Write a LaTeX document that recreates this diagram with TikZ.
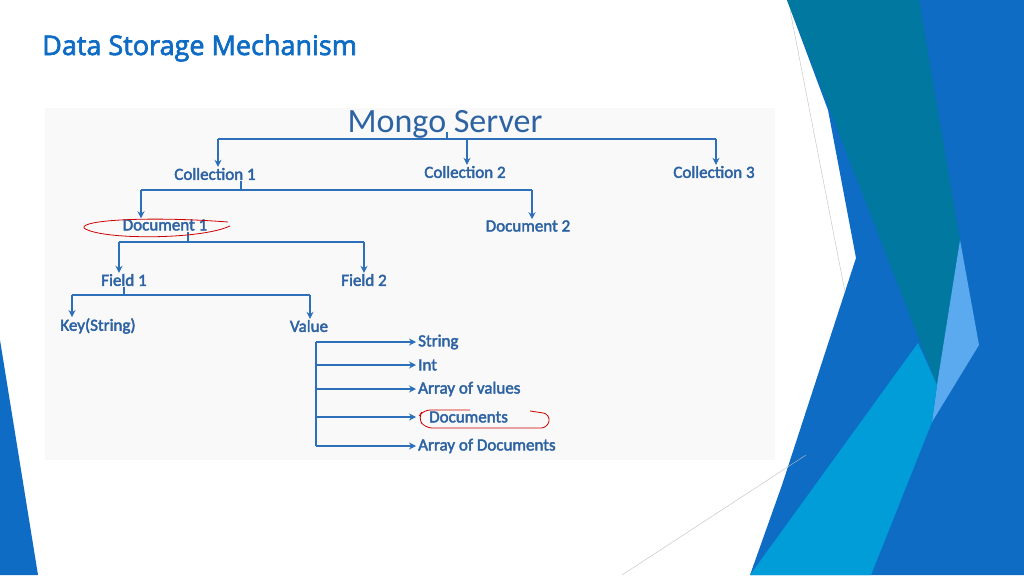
\documentclass[tikz,border=0pt]{standalone}
\usepackage{fontspec}
\setmainfont{Carlito}[AutoFakeBold=2.5]
\newfontfamily\titlefont{Open Sans}[AutoFakeBold=2.5]
\usetikzlibrary{arrows.meta}
\definecolor{dblue}{HTML}{0E6CC4}
\definecolor{teal2}{HTML}{00789F}
\definecolor{lblue}{HTML}{5BA9EE}
\definecolor{cyan2}{HTML}{009DD9}
\definecolor{txt}{HTML}{2E63A3}
\definecolor{lnk}{HTML}{2D6FB8}
\tikzset{
  lbl/.style={text=txt, font=\bfseries\fontsize{17}{19}\selectfont, inner sep=1pt},
  arr/.style={draw=lnk, line width=1.8pt, -{Stealth[length=7pt,width=7pt]}},
  bar/.style={draw=lnk, line width=1.8pt}
}
\begin{document}
\begin{tikzpicture}[x=1pt,y=-1pt]
                \useasboundingbox (0,0) rectangle (1024,575);
                \fill [white] (0,0) rectangle (1024,575);
                % slide decoration
                \fill [dblue] (787,0) -- (1024,0) -- (1024,575) -- (750,575) -- (782,485) -- (856,258) -- (828,110) -- cycle;
                \fill [teal2] (787,0) -- (919,0) -- (960,240) -- (937,385) -- cycle;
                \fill [lblue] (960,240) -- (979,345) -- (932,422) -- (937,385) -- cycle;
                \fill [cyan2] (918,343) -- (937,385) -- (932,422) -- (871,575) -- (750,575) -- cycle;
                \fill [dblue] (0,340) -- (38,575) -- (0,575) -- cycle;
                \draw [gray!50, line width=0.4pt] (790,10) -- (845,292);
                \draw [gray!50, line width=0.4pt] (622,575) -- (806,455);
                \node [anchor=west, text=dblue, font=\titlefont\bfseries\fontsize{27}{31}\selectfont, inner sep=0pt] (title) at (42,48) {Data Storage Mechanism};
                % screenshot area
                \fill [gray!5] (45,108) rectangle (775,460);
                \node [text=txt, font=\fontsize{34}{38}\selectfont, inner sep=1pt] (srv) at (445,124) {Mongo Server};
                \node [lbl] (c1) at (215,174) {Collection 1};
                \node [lbl] (c2) at (465,172) {Collection 2};
                \node [lbl] (c3) at (714,172) {Collection 3};
                \node [lbl] (d1) at (165,225) {Document 1};
                \node [lbl] (d2) at (528,226) {Document 2};
                \node [lbl] (f1) at (124,280) {Field 1};
                \node [lbl] (f2) at (364,280) {Field 2};
                \node [lbl] (key) at (98,326) {Key(String)};
                \node [lbl] (val) at (309,326) {Value};
                \node [lbl, anchor=west] (vs) at (417,342) {String};
                \node [lbl, anchor=west] (vi) at (417,365) {Int};
                \node [lbl, anchor=west] (va) at (417,389) {Array of values};
                \node [lbl, anchor=west] (vd) at (428,417) {Documents};
                \node [lbl, anchor=west] (vad) at (417,446) {Array of Documents};
                % tree
                \draw [bar] (447,132) -- (447,139);
                \draw [bar] (218,139) -- (716,139);
                \draw [arr] (218,139) -- (c1.north -| 218,0);
                \draw [arr] (467,139) -- (c2.north -| 467,0);
                \draw [arr] (716,139) -- (c3.north -| 716,0);
                \draw [bar] (c1.south -| 241,0) -- (241,190);
                \draw [bar] (141,190) -- (532,190);
                \draw [arr] (141,190) -- (d1.north -| 141,0);
                \draw [arr] (532,190) -- (d2.north -| 532,0);
                \draw [bar] (d1.south -| 188,0) -- (188,242);
                \draw [bar] (119,242) -- (364,242);
                \draw [arr] (119,242) -- (f1.north -| 119,0);
                \draw [arr] (364,242) -- (f2.north);
                \draw [bar] (f1.south -| 124,0) -- (124,295);
                \draw [bar] (72,295) -- (310,295);
                \draw [arr] (72,295) -- (key.north -| 72,0);
                \draw [arr] (310,295) -- (val.north -| 310,0);
                \draw [bar] (316,342) -- (316,446);
                \foreach \n in {vs,vi,va,vd,vad}
                  \draw [arr] (316,0 |- \n.west) -- (\n.west -| 416,0);
                % red marks
                \draw [red!80!black, line width=0.8pt] (230,226) .. controls (200,240) and (100,240) .. (84,228) .. controls (80,220) and (150,216) .. (228,222);
                \draw [red!80!black, line width=0.8pt, rounded corners=7pt] (470,410) -- (423,410) -- (418,418) -- (425,428) -- (548,428) -- (550,414) -- (530,411);
\end{tikzpicture}
\end{document}
